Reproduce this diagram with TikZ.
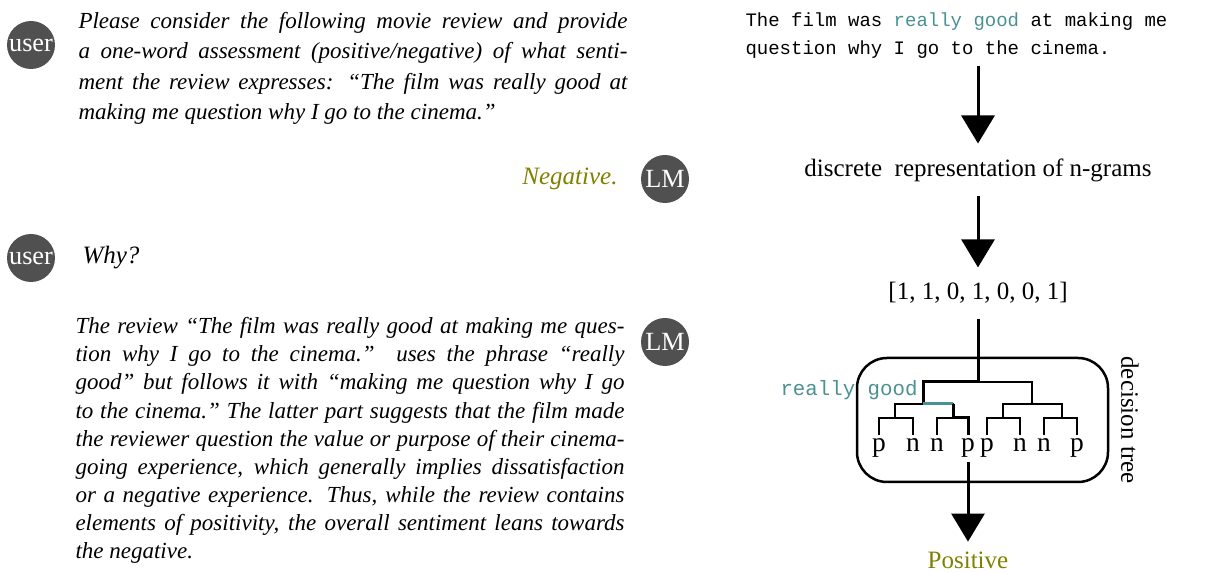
\documentclass[tikz,border=0pt]{standalone}
\usepackage{fontspec}
\setmainfont{Liberation Serif}
\setmonofont{Liberation Mono}
\usepackage{xcolor,tikz}
\usetikzlibrary{arrows.meta}
\definecolor{answer}{RGB}{128,128,0}
\definecolor{ngram}{RGB}{74,145,145}
\definecolor{bubblegray}{RGB}{80,80,80}

\begin{document}
\begin{tikzpicture}[x=0.4pt,y=-0.4pt,font=\fontsize{10}{12}\selectfont,
bubble/.style={circle,fill=bubblegray,text=white,minimum size=19.2pt,inner sep=0pt,font=\fontsize{10.5}{12}\selectfont},
msg/.style={anchor=north west,align=justify,inner sep=0pt,text width=219.6pt},
mono/.style={font=\ttfamily\fontsize{7.6}{11.2}\selectfont},
arr/.style={line width=1.2pt,-{Triangle[width=13.2pt,length=11.2pt]}},
branch/.style={line width=0.5pt},
taken/.style={line width=1.2pt},
leaf/.style={inner sep=0pt,outer sep=1.6pt,anchor=base,font=\fontsize{11}{12}\selectfont}]
\useasboundingbox (0,0) rectangle (1222,572);
% chat on the left
\node[bubble] (user1) at (31,45) {user};
\node[msg,font=\itshape\fontsize{9.2}{12.1}\selectfont\hyphenpenalty10000\relax] (prompt) at (78,12) {Please consider the following movie review and provide\linebreak a one-word assessment (positive/negative) of what senti-\linebreak ment the review expresses: ``The film was really good at\linebreak making me question why I go to the cinema."};
\node[bubble] (lm1) at (665,179) {LM};
\node[anchor=east,text=answer,font=\itshape\fontsize{10}{12}\selectfont,inner sep=0pt] (neg) at (618,179) {Negative.};
\node[bubble] (user2) at (31,258) {user};
\node[anchor=west,font=\itshape\fontsize{10}{12}\selectfont,inner sep=0pt] (why) at (82,258) {Why?};
\node[bubble] (lm2) at (665,342) {LM};
\node[msg,font=\itshape\fontsize{9.2}{11.25}\selectfont\hyphenpenalty10000\relax] (expl) at (75,317) {The review ``The film was really good at making me ques-\linebreak tion why I go to the cinema."~ uses the phrase ``really\linebreak good" but follows it with ``making me question why I go\linebreak to the cinema." The latter part suggests that the film made\linebreak the reviewer question the value or purpose of their cinema-\linebreak going experience, which generally implies dissatisfaction\linebreak or a negative experience. Thus, while the review contains\linebreak elements of positivity, the overall sentiment leans towards\linebreak the negative.};
% n-gram pipeline on the right
\node[mono,anchor=north west,align=left,inner sep=0pt] (review) at (745,12) {The film was \textcolor{ngram}{really good} at making me\\question why I go to the cinema.};
\node[inner sep=0pt,outer sep=6pt] (ngrams) at (978,170) {discrete~ representation of n-grams};
\node[inner sep=0pt,outer sep=6pt] (vec) at (978,293) {[1, 1, 0, 1, 0, 0, 1]};
\draw[arr] ([yshift=-3pt]review.south -| ngrams.north) -- (ngrams.north);
\draw[arr] (ngrams.south) -- (vec.north);
% decision tree
\node[draw,line width=1pt,rounded corners=12pt,minimum width=100.4pt,minimum height=49.6pt] (dtbox) at (982.5,420) {};
\node[rotate=-90,inner sep=0pt] (dtlabel) at (1130,420) {decision tree};
\coordinate (r) at (978,382);
\coordinate (a) at (923,404); \coordinate (b) at (1032,404);
\coordinate (aa) at (895,418); \coordinate (ab) at (953,418);
\coordinate (ba) at (1003,418); \coordinate (bb) at (1062,418);
\node[leaf] (l1) at (879,452) {p}; \node[leaf] (l2) at (913,452) {n};
\node[leaf] (l3) at (937,452) {n}; \node[leaf] (l4) at (968,452) {p};
\node[leaf] (l5) at (987,452) {p}; \node[leaf] (l6) at (1020,452) {n};
\node[leaf] (l7) at (1044,452) {n}; \node[leaf] (l8) at (1077,452) {p};
\draw[branch] (r) -| (a); \draw[branch] (r) -| (b);
\draw[branch] (a) -| (aa); \draw[branch] (a) -| (ab);
\draw[branch] (b) -| (ba); \draw[branch] (b) -| (bb);
\draw[branch] (aa) -| (l1.north); \draw[branch] (aa) -| (l2.north);
\draw[branch] (ab) -| (l3.north); \draw[branch] (ab) -| (l4.north);
\draw[branch] (ba) -| (l5.north); \draw[branch] (ba) -| (l6.north);
\draw[branch] (bb) -| (l7.north); \draw[branch] (bb) -| (l8.north);
% path taken for the review
\draw[taken] (vec.south) -- (r) -| (a);
\draw[taken,ngram] (a) -- (a -| ab);
\draw[taken] (a -| ab) -- (ab) -| (l4.north);
\node[mono,text=ngram,font=\ttfamily\fontsize{8.3}{11}\selectfont,inner sep=0pt] (phrase) at (849,390) {really good};
\node[text=answer,inner sep=0pt,outer sep=4pt] (pos) at (968,560) {Positive};
\draw[arr] (l4.south) -- (pos.north);
\end{tikzpicture}
\end{document}
